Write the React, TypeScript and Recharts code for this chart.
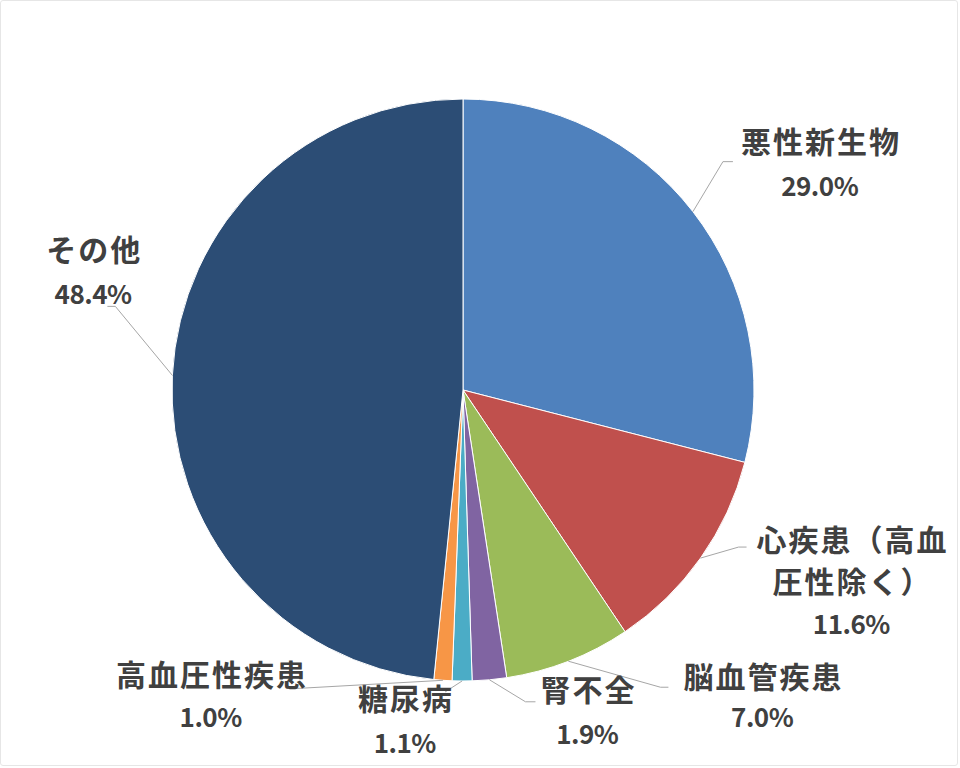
import React from "react";
import { PieChart, Pie, Cell } from "recharts";

const categories = ["悪性新生物", "心疾患（高血\n圧性除く）", "脳血管疾患", "腎不全", "糖尿病", "高血圧性疾患", "その他"];
const shares = [29.0, 11.6, 7.0, 1.9, 1.1, 1.0, 48.4];
const percentLabels = ["29.0%", "11.6%", "7.0%", "1.9%", "1.1%", "1.0%", "48.4%"];
const colors = ["#4F81BD", "#C0504D", "#9BBB59", "#8064A2", "#4BACC6", "#F79646", "#2C4D75"];

// label layout: elbow offset from slice anchor, horizontal tail length, text centre offset, line spacing
const labelLayout = [
  { ex: 30, ey: -50, h: 10, tx: 127, ty: -72, ls: 45 },
  { ex: 38, ey: -11, h: 8, tx: 151, ty: -20, ls: 42 },
  { ex: 92, ey: 26, h: 8, tx: 194, ty: 14, ls: 40 },
  { ex: 36, ey: 22, h: 10, tx: 98, ty: 8, ls: 45 },
  { ex: -17, ey: 11, h: 0, tx: -57, ty: 16, ls: 45 },
  { ex: -143, ey: 8, h: -6, tx: -232, ty: -7, ls: 42 },
  { ex: -57, ey: -69, h: -8, tx: -79, ty: -127, ls: 44 },
];

const data = categories.map((name, i) => ({ name, value: shares[i], pct: percentLabels[i] }));

const RAD = Math.PI / 180;

const renderLabel = (props: any) => {
  const { cx, cy, midAngle, outerRadius, index } = props;
  const L = labelLayout[index];
  const ax = cx + outerRadius * Math.cos(-midAngle * RAD);
  const ay = cy + outerRadius * Math.sin(-midAngle * RAD);
  const bx = ax + L.ex;
  const by = ay + L.ey;
  const lines = [...data[index].name.split("\n"), data[index].pct];
  return (
    <g>
      <polyline
        points={`${ax},${ay} ${bx},${by} ${bx + L.h},${by}`}
        fill="none"
        stroke="#A6A6A6"
        strokeWidth={1}
      />
      {lines.map((t, k) => {
        const isPct = k === lines.length - 1;
        const sp = isPct ? -0.5 : 2;
        return (
          <text
            key={k}
            x={ax + L.tx + sp / 2}
            y={ay + L.ty + k * L.ls}
            textAnchor="middle"
            dominantBaseline="central"
            fill="#404040"
            fontSize={isPct ? 26 : 30}
            letterSpacing={sp}
            fontWeight="bold"
            fontFamily="'Noto Sans CJK JP', 'Noto Sans', sans-serif"
          >
            {t}
          </text>
        );
      })}
    </g>
  );
};

export default function App() {
  return (
    <div style={{ position: "absolute", left: 0, top: 0, width: 960, height: 768, background: "#fff" }}>
      <div
        style={{
          position: "absolute",
          left: 0,
          top: 0,
          width: 956,
          height: 764,
          border: "1px solid #E6E6E6",
          borderRadius: 3,
        }}
      />
      <PieChart width={960} height={768} margin={{ top: 0, right: 0, bottom: 0, left: 0 }}>
        <Pie
          data={data}
          dataKey="value"
          nameKey="name"
          cx={463}
          cy={390}
          outerRadius={291}
          startAngle={90}
          endAngle={-270}
          stroke="#FFFFFF"
          strokeWidth={1}
          label={renderLabel}
          labelLine={false}
          isAnimationActive={false}
        >
          {data.map((d, i) => (
            <Cell key={d.name} fill={colors[i]} />
          ))}
        </Pie>
      </PieChart>
    </div>
  );
}
